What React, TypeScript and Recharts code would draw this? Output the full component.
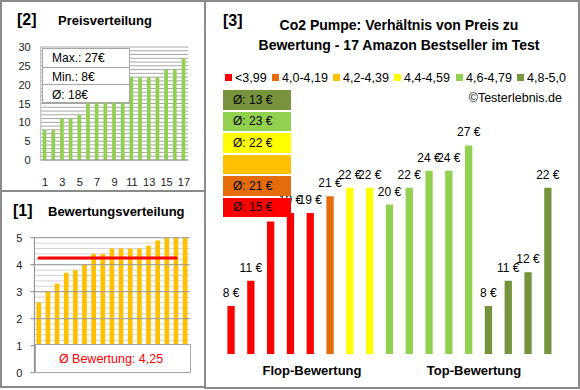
import React from 'react';
import { ComposedChart, Bar, XAxis, YAxis, CartesianGrid, Cell, LabelList, ReferenceLine } from 'recharts';

const FONT = '"Liberation Sans", Arial, sans-serif';

// ---------- data ----------
const productRanks = ['1', '2', '3', '4', '5', '6', '7', '8', '9', '10', '11', '12', '13', '14', '15', '16', '17'];
// [2] prices sorted ascending
const sortedPrices = [8, 8, 11, 11, 12, 18, 19, 19, 20, 21, 22, 22, 22, 22, 24, 24, 27];
// [1] ratings sorted ascending
const ratings = [2.6, 3.0, 3.3, 3.7, 3.8, 4.0, 4.4, 4.4, 4.6, 4.6, 4.6, 4.6, 4.7, 4.9, 5.0, 5.0, 5.0];
// [3] price of each product, products in rating order
const pricesByRating = [8, 11, 18, 19, 19, 21, 22, 22, 20, 22, 24, 24, 27, 8, 11, 12, 22];
// rating classes
const classLabels = ['<3,99', '4,0-4,19', '4,2-4,39', '4,4-4,59', '4,6-4,79', '4,8-5,0'];
const classMin = [0, 4.0, 4.2, 4.4, 4.6, 4.8];
const classColors = ['#FF0000', '#E46C0A', '#FFC000', '#FFFF00', '#92D050', '#77933C'];
// axis labels
const priceTickLabels = [0, 5, 10, 15, 20, 25, 30];
const ratingTickLabels = [0, 1, 2, 3, 4, 5];

// ---------- derived ----------
const classOf = (r: number) => {
  let k = 0;
  classMin.forEach((m, i) => { if (r >= m - 1e-9) k = i; });
  return k;
};
const priceData = productRanks.map((rank, i) => ({ rank, price: sortedPrices[i] }));
const ratingData = productRanks.map((rank, i) => ({ rank, rating: ratings[i] }));
const productData = productRanks.map((rank, i) => ({ rank, price: pricesByRating[i], color: classColors[classOf(ratings[i])] }));

const priceMax = Math.max(...sortedPrices);
const priceMin = Math.min(...sortedPrices);
const priceAvg = Math.round(sortedPrices.reduce((a, b) => a + b, 0) / sortedPrices.length);
const ratingAvg = ratings.reduce((a, b) => a + b, 0) / ratings.length;
const ratingAvgText = ratingAvg.toFixed(2).replace('.', ',');

const classAverages = classLabels.map((_, k) => {
  const vals = pricesByRating.filter((_, i) => classOf(ratings[i]) === k);
  return vals.length ? Math.round(vals.reduce((a, b) => a + b, 0) / vals.length) : null;
});

const priceGridTicks = Array.from({ length: 31 }, (_, i) => i);
const ratingGridTicks = Array.from({ length: 26 }, (_, i) => Math.round(i * 2) / 10);

// ---------- helpers ----------
function T({ x, y, children, size = 12, bold = false, color = '#000', align = 'left' }: any) {
  const tx = align === 'center' ? '-50%' : align === 'right' ? '-100%' : '0';
  return (
    <div style={{ position: 'absolute', left: x, top: y, transform: `translate(${tx},-50%)`, fontSize: size, fontWeight: bold ? 700 : 400, color, lineHeight: 1, whiteSpace: 'nowrap', fontFamily: FONT }}>
      {children}
    </div>
  );
}

const PriceTick = (props: any) => {
  const { x, y, payload } = props;
  if (!priceTickLabels.includes(payload.value)) return <g />;
  return <text x={x} y={y} dy={4} textAnchor="end" fontSize={11} fill="#222" fontFamily={FONT}>{payload.value}</text>;
};

const RatingTick = (props: any) => {
  const { x, y, payload } = props;
  const v = Math.round(payload.value * 10) / 10;
  if (!ratingTickLabels.includes(v)) return <g />;
  return (
    <g>
      <line x1={x + 8} x2={x + 12} y1={y} y2={y} stroke="#888" />
      <text x={x} y={y} dy={4} textAnchor="end" fontSize={11} fill="#222" fontFamily={FONT}>{v}</text>
    </g>
  );
};

const PriceLabel = (props: any) => {
  const { x, y, width, value } = props;
  return (
    <text x={Number(x) + Number(width) / 2} y={Number(y) - 9} textAnchor="middle" fontSize={12} fill="#000" fontFamily={FONT}>
      {`${value} €`}
    </text>
  );
};

const border = '2px solid #8a8a8a';

export default function App() {
  const boxOrder = [5, 4, 3, 2, 1, 0];
  const boxTops = [90, 111.5, 133, 154.5, 176, 197.5];
  const legendX = [225, 272, 333, 394, 456, 517];
  return (
    <div style={{ position: 'absolute', left: 0, top: 0, width: 580, height: 390, background: '#fff', fontFamily: FONT, overflow: 'hidden' }}>
      {/* panel frames */}
      <div style={{ position: 'absolute', left: 0, top: 0, width: 206, height: 192, border, boxSizing: 'border-box' }} />
      <div style={{ position: 'absolute', left: 0, top: 190, width: 206, height: 198, border, boxSizing: 'border-box' }} />
      <div style={{ position: 'absolute', left: 204, top: 0, width: 376, height: 389, border, boxSizing: 'border-box' }} />

      {/* ---------- [2] Preisverteilung ---------- */}
      <div style={{ position: 'absolute', left: 0, top: 0 }}>
        <ComposedChart width={200} height={192} data={priceData} margin={{ top: 47, right: 11.7, bottom: 2, left: 10.7 }}>
          <CartesianGrid vertical={false} stroke="#a8a8a8" />
          <XAxis dataKey="rank" interval={1} tickLine={false} axisLine={{ stroke: '#999' }} tickSize={0} tickMargin={18} height={30}
            tick={{ fontSize: 11, fill: '#222', fontFamily: FONT }} />
          <YAxis type="number" domain={[0, 30]} ticks={priceGridTicks} interval={0} width={30} tickLine={false} axisLine={{ stroke: '#bbb' }}
            tickSize={0} tickMargin={10} tick={<PriceTick />} />
          <Bar dataKey="price" fill="#92D050" barSize={3.7} isAnimationActive={false} />
        </ComposedChart>
      </div>
      <T x={17} y={20} size={16} bold>[2]</T>
      <T x={58} y={20} size={13} bold>Preisverteilung</T>
      <div style={{ position: 'absolute', left: 41.7, top: 48.3, width: 88.3, height: 54.4, background: '#fff', border: '1px solid #a6a6a6', boxSizing: 'border-box' }}>
        <div style={{ position: 'absolute', left: 0, right: 0, top: 17.4, borderTop: '1px solid #a6a6a6' }} />
        <div style={{ position: 'absolute', left: 0, right: 0, top: 35, borderTop: '1px solid #a6a6a6' }} />
      </div>
      <T x={52} y={58} size={12}>{`Max.: ${priceMax}€`}</T>
      <T x={52} y={76.5} size={12}>{`Min.: ${priceMin}€`}</T>
      <T x={52} y={94.5} size={12}>{`Ø: ${priceAvg}€`}</T>

      {/* ---------- [1] Bewertungsverteilung ---------- */}
      <div style={{ position: 'absolute', left: 0, top: 190 }}>
        <ComposedChart width={206} height={196} data={ratingData} margin={{ top: 47.7, right: 16.1, bottom: 13.3, left: 0 }}>
          <CartesianGrid vertical={false} stroke="#d4d4d4" />
          {[1, 2, 3, 4, 5].map(v => (
            <ReferenceLine key={v} y={v} stroke="#9a9a9a" />
          ))}
          <XAxis dataKey="rank" hide />
          <YAxis type="number" domain={[0, 5]} ticks={ratingGridTicks} interval={0} width={34.4} tickLine={false} axisLine={{ stroke: '#888' }}
            tickSize={0} tickMargin={12} tick={<RatingTick />} />
          <Bar dataKey="rating" fill="#FFC000" barSize={4.7} isAnimationActive={false} />
          <ReferenceLine segment={[{ x: '1', y: ratingAvg }, { x: '16', y: ratingAvg }]} stroke="#FF0000" strokeWidth={3} strokeLinecap="round" />
        </ComposedChart>
      </div>
      <T x={13} y={211} size={16} bold>[1]</T>
      <T x={48} y={211} size={13} bold>Bewertungsverteilung</T>
      <div style={{ position: 'absolute', left: 35, top: 344, width: 155.7, height: 28.7, background: '#fff', border: '1px solid #a6a6a6', boxSizing: 'border-box' }} />
      <T x={111} y={358.5} size={12.5} color="#FF0000" align="center">{`Ø Bewertung: ${ratingAvgText}`}</T>

      {/* ---------- [3] Preis / Bewertung ---------- */}
      <div style={{ position: 'absolute', left: 205, top: 0 }}>
        <ComposedChart width={373} height={388} data={productData} margin={{ top: 120.1, right: 20, bottom: 33.8, left: 16.4 }}>
          <XAxis dataKey="rank" hide />
          <YAxis type="number" hide domain={[2.3, 30]} allowDataOverflow />
          <Bar dataKey="price" barSize={7.3} isAnimationActive={false}>
            {productData.map((d, i) => <Cell key={i} fill={d.color} />)}
            <LabelList dataKey="price" content={<PriceLabel />} />
          </Bar>
        </ComposedChart>
      </div>
      <T x={223} y={21} size={16} bold>[3]</T>
      <T x={399} y={25} size={14} bold align="center">Co2 Pumpe: Verhältnis von Preis zu</T>
      <T x={399} y={45} size={14} bold align="center">Bewertung - 17 Amazon Bestseller im Test</T>
      {classLabels.map((lab, k) => (
        <React.Fragment key={lab}>
          <div style={{ position: 'absolute', left: legendX[k], top: 74, width: 7, height: 7, background: classColors[k] }} />
          <T x={legendX[k] + 10} y={77.5} size={12.5}>{lab}</T>
        </React.Fragment>
      ))}
      <T x={562} y={98} size={12.5} align="right">©Testerlebnis.de</T>
      {boxOrder.map((k, j) => (
        <div key={k} style={{ position: 'absolute', left: 223, top: boxTops[j], width: 68, height: 19.5, background: classColors[k] }}>
          {classAverages[k] !== null && (
            <div style={{ position: 'absolute', left: 10, top: '50%', transform: 'translateY(-50%)', fontSize: 12, lineHeight: 1, color: '#000', fontFamily: FONT, whiteSpace: 'nowrap' }}>
              {`Ø: ${classAverages[k]} €`}
            </div>
          )}
        </div>
      ))}
      <T x={312} y={370} size={13} bold align="center">Flop-Bewertung</T>
      <T x={474} y={370} size={13} bold align="center">Top-Bewertung</T>
    </div>
  );
}
